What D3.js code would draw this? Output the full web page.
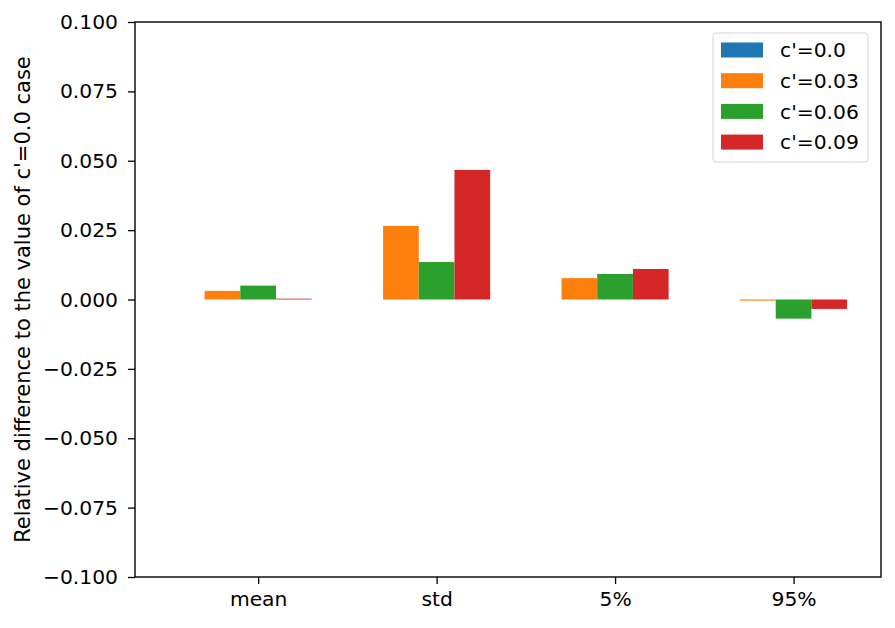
<!DOCTYPE html>
<html>
<head>
<meta charset="utf-8">
<script src="https://cdn.jsdelivr.net/npm/d3@7"></script>
<style>
  body { margin: 0; background: #fff; }
  text { font-family: "DejaVu Sans", sans-serif; fill: #000; }
</style>
</head>
<body>
<div id="chart"></div>
<script>
var width = 895;
var height = 628;

// data
var categories = ["mean", "std", "5%", "95%"];
var seriesNames = ["c'=0.0", "c'=0.03", "c'=0.06", "c'=0.09"];
var seriesColors = ["#1f77b4", "#ff7f0e", "#2ca02c", "#d62728"];
var c000 = [0, 0, 0, 0];
var c003 = [0.0031, 0.0265, 0.0077, -0.0004];
var c006 = [0.0050, 0.0135, 0.0092, -0.0069];
var c009 = [0.0003, 0.0467, 0.0110, -0.0034];
var yTicks = [-0.1, -0.075, -0.05, -0.025, 0, 0.025, 0.05, 0.075, 0.1];

var series = [c000, c003, c006, c009];
var offsets = [-0.4, -0.2, 0, 0.2];
var barW = 0.2;
var fontSize = "20.3px";

var margin = { top: 22, right: 14, bottom: 51, left: 135 };

var svg = d3.select("#chart")
  .append("svg")
  .attr("width", width)
  .attr("height", height);

var x = d3.scaleLinear()
  .domain([-0.69, 3.49])
  .range([margin.left, width - margin.right]);

var y = d3.scaleLinear()
  .domain([-0.1, 0.1])
  .range([height - margin.bottom, margin.top]);

// bars
series.forEach(function(vals, s) {
  svg.append("g")
    .selectAll("rect")
    .data(vals)
    .enter()
    .append("rect")
    .attr("x", function(d, i) { return x(i + offsets[s] - barW / 2); })
    .attr("width", x(barW) - x(0))
    .attr("y", function(d) { return y(Math.max(0, d)); })
    .attr("height", function(d) { return Math.abs(y(d) - y(0)); })
    .attr("fill", seriesColors[s]);
});

// axes
var fmt = function(d) { return d3.format(".3f")(d).replace("-", "\u2212"); };

var yAxis = d3.axisLeft(y)
  .tickValues(yTicks)
  .tickFormat(fmt)
  .tickSize(7)
  .tickPadding(10);

var xAxis = d3.axisBottom(x)
  .tickValues(d3.range(categories.length))
  .tickFormat(function(d) { return categories[d]; })
  .tickSize(7)
  .tickPadding(8);

var gy = svg.append("g")
  .attr("transform", "translate(" + margin.left + ",0)")
  .call(yAxis);

var gx = svg.append("g")
  .attr("transform", "translate(0," + (height - margin.bottom) + ")")
  .call(xAxis);

[gx, gy].forEach(function(g) {
  g.select(".domain").remove();
  g.selectAll("line").attr("stroke", "#000").attr("stroke-width", 1.3);
  g.selectAll("text").style("font-size", fontSize).attr("fill", "#000");
});

// frame
svg.append("rect")
  .attr("x", margin.left)
  .attr("y", margin.top)
  .attr("width", width - margin.left - margin.right)
  .attr("height", height - margin.top - margin.bottom)
  .attr("fill", "none")
  .attr("stroke", "#000")
  .attr("stroke-width", 1.4);

// y label
svg.append("text")
  .attr("transform", "translate(30," + (margin.top + (height - margin.top - margin.bottom) / 2) + ") rotate(-90)")
  .attr("text-anchor", "middle")
  .style("font-size", "21px")
  .text("Relative difference to the value of c'=0.0 case");

// legend
var legend = svg.append("g")
  .attr("transform", "translate(713,33)");

legend.append("rect")
  .attr("width", 155)
  .attr("height", 129)
  .attr("rx", 3)
  .attr("fill", "#fff")
  .attr("fill-opacity", 0.8)
  .attr("stroke", "#d6d6d6")
  .attr("stroke-width", 1);

var items = legend.selectAll("g.item")
  .data(seriesNames)
  .enter()
  .append("g")
  .attr("class", "item")
  .attr("transform", function(d, i) { return "translate(8," + (17 + i * 30.7) + ")"; });

items.append("rect")
  .attr("y", -7.5)
  .attr("width", 42)
  .attr("height", 15)
  .attr("fill", function(d, i) { return seriesColors[i]; });

items.append("text")
  .attr("x", 59)
  .attr("dy", "0.35em")
  .style("font-size", fontSize)
  .text(function(d) { return d; });
</script>
</body>
</html>
